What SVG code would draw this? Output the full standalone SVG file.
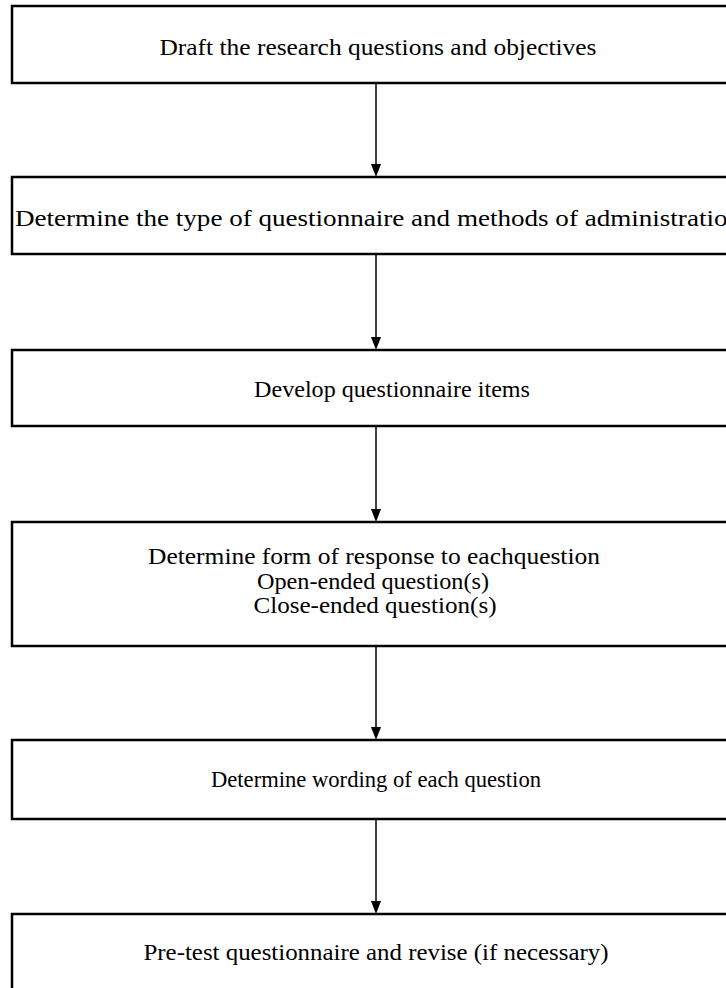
<svg xmlns="http://www.w3.org/2000/svg" width="726" height="988" viewBox="0 0 726 988">
<style>
.box{fill:#fff;stroke:#000;stroke-width:2.5}
.t{font-family:"Liberation Serif","Times New Roman",serif;font-size:24px;fill:#000;text-anchor:middle}
.c{stroke:#000;stroke-width:1.5;fill:none}
.ah{fill:#000}
</style>
<rect width="726" height="988" fill="#fff"/>
<g id="n1"><rect class="box" x="12" y="6" width="730" height="77"/><text class="t" x="378" y="55" textLength="437" lengthAdjust="spacingAndGlyphs">Draft the research questions and objectives</text></g>
<g id="n2"><rect class="box" x="12" y="177" width="730" height="77"/><text class="t" x="378" y="226" textLength="726" lengthAdjust="spacingAndGlyphs">Determine the type of questionnaire and methods of administration</text></g>
<g id="n3"><rect class="box" x="12" y="350" width="730" height="76"/><text class="t" x="392" y="397" textLength="276" lengthAdjust="spacingAndGlyphs">Develop questionnaire items</text></g>
<g id="n4"><rect class="box" x="12" y="522" width="730" height="124"/><text class="t" x="374" y="564" textLength="452" lengthAdjust="spacingAndGlyphs">Determine form of response to eachquestion</text><text class="t" x="373" y="589" textLength="232" lengthAdjust="spacingAndGlyphs">Open-ended question(s)</text><text class="t" x="375" y="613" textLength="243" lengthAdjust="spacingAndGlyphs">Close-ended question(s)</text></g>
<g id="n5"><rect class="box" x="12" y="740" width="730" height="79"/><text class="t" x="376" y="787" textLength="330" lengthAdjust="spacingAndGlyphs">Determine wording of each question</text></g>
<g id="n6"><rect class="box" x="12" y="914" width="730" height="90"/><text class="t" x="376" y="960" textLength="465" lengthAdjust="spacingAndGlyphs">Pre-test questionnaire and revise (if necessary)</text></g>
<g id="connectors">
<path class="c" d="M376,83 V164"/><path class="ah" d="M371,164 L381,164 L376,177 Z"/>
<path class="c" d="M376,254 V337"/><path class="ah" d="M371,337 L381,337 L376,350 Z"/>
<path class="c" d="M376,426 V509"/><path class="ah" d="M371,509 L381,509 L376,522 Z"/>
<path class="c" d="M376,646 V727"/><path class="ah" d="M371,727 L381,727 L376,740 Z"/>
<path class="c" d="M376,819 V901"/><path class="ah" d="M371,901 L381,901 L376,914 Z"/>
</g>
</svg>
